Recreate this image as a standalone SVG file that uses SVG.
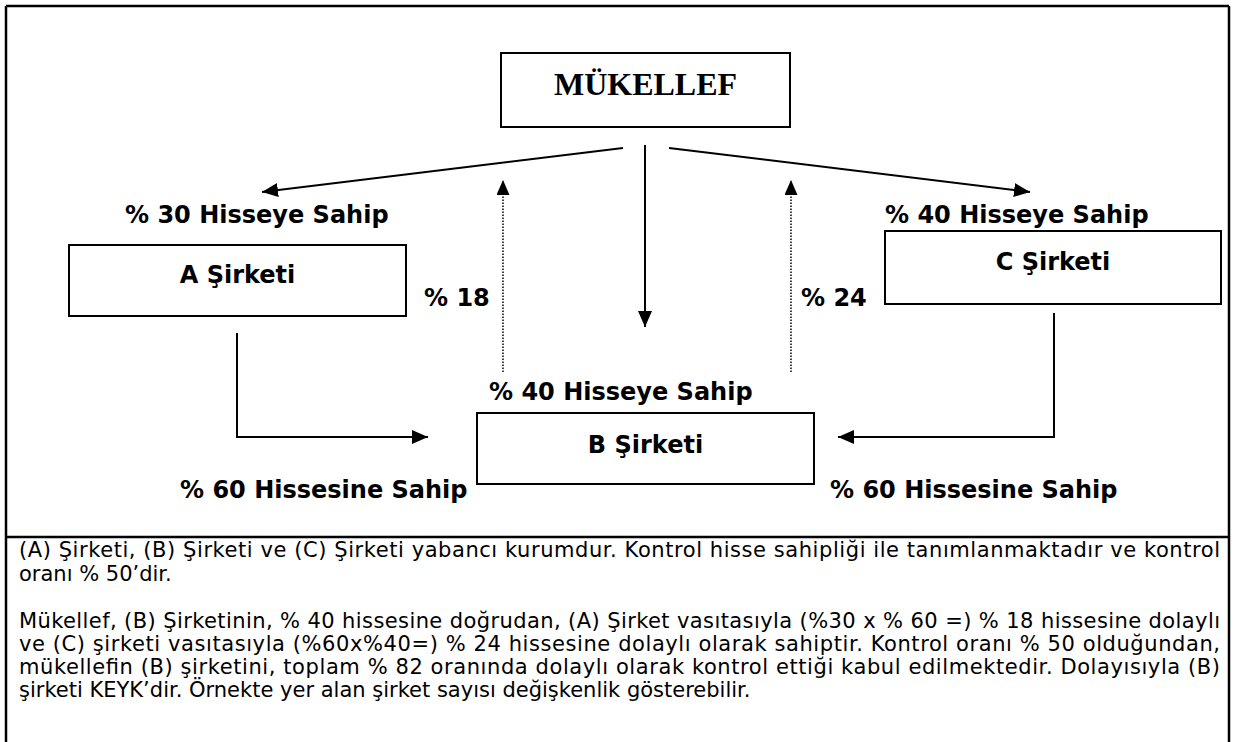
<svg xmlns="http://www.w3.org/2000/svg" width="1235" height="742" viewBox="0 0 1235 742">
  <style>
    .frame { stroke: #000; stroke-width: 2.5; fill: none; }
    .box { fill: #fff; stroke: #000; stroke-width: 2; }
    .lbl { font-family: "DejaVu Sans", Verdana, sans-serif; font-weight: bold; font-size: 24px; fill: #000; }
    .title { font-family: "Liberation Serif", "Times New Roman", serif; font-weight: bold; font-size: 32px; fill: #000; }
    .body { font-family: "DejaVu Sans", Verdana, sans-serif; font-size: 21px; fill: #000; }
    .conn { stroke: #000; stroke-width: 2; fill: none; }
    .dotted { stroke: #000; stroke-width: 1.5; fill: none; stroke-dasharray: 1.5 1.5; }
  </style>
  <defs>
    <marker id="arrow" markerUnits="userSpaceOnUse" markerWidth="16" markerHeight="14" refX="16" refY="7" orient="auto">
      <path d="M0,0 L16,7 L0,14 Z" fill="#000"/>
    </marker>
    <marker id="arrowSmall" markerUnits="userSpaceOnUse" markerWidth="15" markerHeight="13" refX="15" refY="6.5" orient="auto">
      <path d="M0,0 L15,6.5 L0,13 Z" fill="#000"/>
    </marker>
  </defs>

  <rect width="1235" height="742" fill="#fff"/>

  <!-- outer frame and divider between chart and explanation -->
  <g id="frame">
    <line class="frame" x1="6" y1="6" x2="1229" y2="6"/>
    <line class="frame" x1="6" y1="6" x2="6" y2="742"/>
    <line class="frame" x1="1229" y1="6" x2="1229" y2="742"/>
    <line class="frame" x1="6" y1="537" x2="1229" y2="537"/>
  </g>

  <!-- connectors -->
  <g id="connectors">
    <line class="conn" x1="623" y1="148" x2="262" y2="192" marker-end="url(#arrow)"/>
    <line class="conn" x1="669" y1="148" x2="1030" y2="192" marker-end="url(#arrow)"/>
    <line class="conn" x1="645" y1="145" x2="645" y2="327" marker-end="url(#arrow)"/>
    <line class="dotted" x1="503" y1="372" x2="503" y2="180" marker-end="url(#arrowSmall)"/>
    <line class="dotted" x1="791" y1="372" x2="791" y2="180" marker-end="url(#arrowSmall)"/>
    <polyline class="conn" points="237,333 237,437 428,437" marker-end="url(#arrow)"/>
    <polyline class="conn" points="1054,313 1054,437 838,437" marker-end="url(#arrow)"/>
  </g>

  <!-- nodes -->
  <g id="mukellef">
    <rect class="box" x="501" y="53" width="289" height="74"/>
    <text class="title" x="645.5" y="95" text-anchor="middle">MÜKELLEF</text>
  </g>
  <g id="sirket-a">
    <rect class="box" x="69" y="245" width="337" height="71"/>
    <text class="lbl" x="237.5" y="283" text-anchor="middle">A Şirketi</text>
  </g>
  <g id="sirket-c">
    <rect class="box" x="885" y="231" width="336" height="73"/>
    <text class="lbl" x="1053" y="270" text-anchor="middle">C Şirketi</text>
  </g>
  <g id="sirket-b">
    <rect class="box" x="477" y="413" width="337" height="71"/>
    <text class="lbl" x="645.5" y="453" text-anchor="middle">B Şirketi</text>
  </g>

  <!-- share labels -->
  <g id="labels">
    <text class="lbl" x="125" y="223">% 30 Hisseye Sahip</text>
    <text class="lbl" x="885" y="223">% 40 Hisseye Sahip</text>
    <text class="lbl" x="424" y="306">% 18</text>
    <text class="lbl" x="801" y="306">% 24</text>
    <text class="lbl" x="489" y="400">% 40 Hisseye Sahip</text>
    <text class="lbl" x="180" y="498">% 60 Hissesine Sahip</text>
    <text class="lbl" x="830" y="498">% 60 Hissesine Sahip</text>
  </g>

  <!-- explanation, justified lines stretched to the text column -->
  <g id="explanation">
    <text class="body" x="19" y="557" textLength="1201" lengthAdjust="spacing">(A) Şirketi, (B) Şirketi ve (C) Şirketi yabancı kurumdur. Kontrol hisse sahipliği ile tanımlanmaktadır ve kontrol</text>
    <text class="body" x="19" y="581">oranı % 50’dir.</text>
    <text class="body" x="19" y="628" textLength="1201" lengthAdjust="spacing">Mükellef, (B) Şirketinin, % 40 hissesine doğrudan, (A) Şirket vasıtasıyla (%30 x % 60 =) % 18 hissesine dolaylı</text>
    <text class="body" x="19" y="651" textLength="1201" lengthAdjust="spacing">ve (C) şirketi vasıtasıyla (%60x%40=) % 24 hissesine dolaylı olarak sahiptir. Kontrol oranı % 50 olduğundan,</text>
    <text class="body" x="19" y="674" textLength="1201" lengthAdjust="spacing">mükellefin (B) şirketini, toplam % 82 oranında dolaylı olarak kontrol ettiği kabul edilmektedir. Dolayısıyla (B)</text>
    <text class="body" x="19" y="697">şirketi KEYK’dir. Örnekte yer alan şirket sayısı değişkenlik gösterebilir.</text>
  </g>
</svg>
